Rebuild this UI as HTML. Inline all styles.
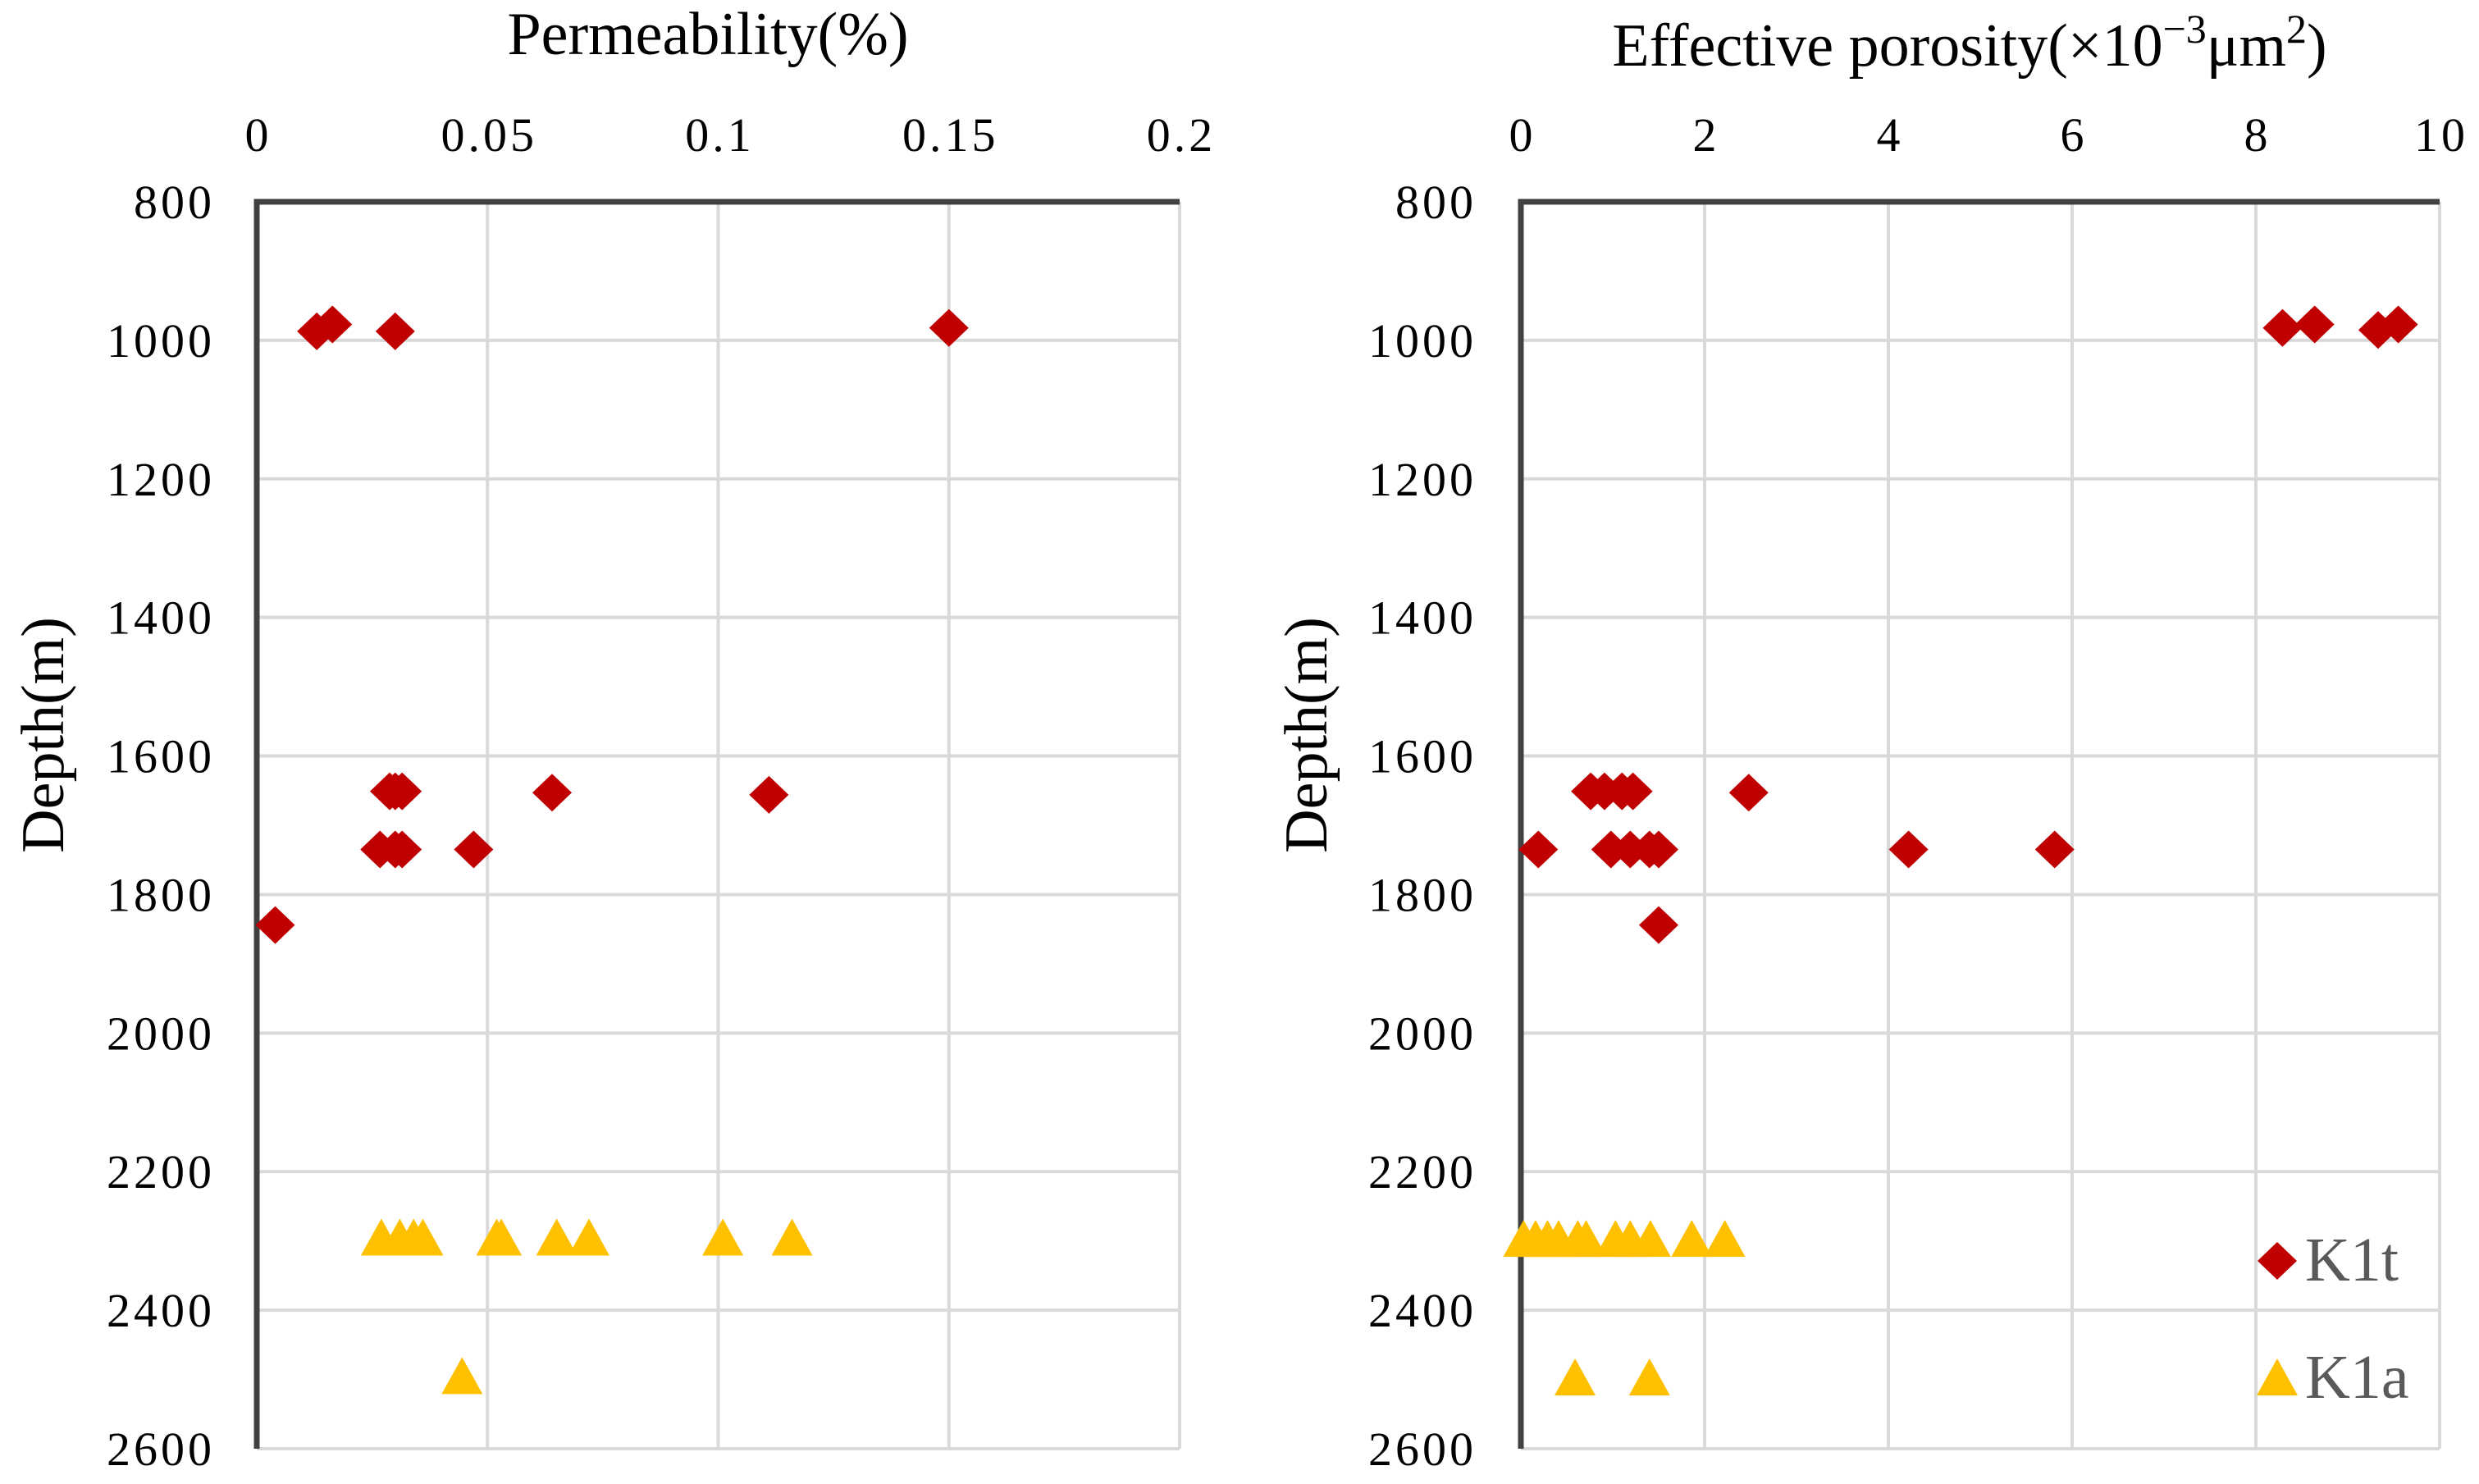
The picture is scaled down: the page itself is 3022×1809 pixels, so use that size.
<!DOCTYPE html>
<html><head><meta charset="utf-8"><style>
html,body{margin:0;padding:0;background:#fff;}
svg{display:block;}
text{font-family:"Liberation Serif",serif;}
</style></head><body>
<svg id="c" width="3022" height="1809" viewBox="0 0 3022 1809" xmlns="http://www.w3.org/2000/svg">
<text x="863" y="66" font-size="74" text-anchor="middle">Permeability(%)</text>
<text x="2401" y="80" font-size="74" text-anchor="middle">Effective porosity(×10<tspan dy="-28" font-size="50">−3</tspan><tspan dy="28">μm</tspan><tspan dy="-28" font-size="50">2</tspan><tspan dy="28">)</tspan></text>
<text transform="translate(77,896) rotate(-90)" font-size="74" text-anchor="middle">Depth(m)</text>
<text transform="translate(1617,896) rotate(-90)" font-size="74" text-anchor="middle">Depth(m)</text>
<g id="g"></g>
</svg>
<script>
const depthTicks=[800,1000,1200,1400,1600,1800,2000,2200,2400,2600];
const permTicks=["0","0.05","0.1","0.15","0.2"];
const porTicks=["0","2","4","6","8","10"];
const permK1tX=[0.013,0.0164,0.030,0.150,0.0288,0.0315,0.030,0.064,0.111,0.0267,0.030,0.0315,0.047,0.004];
const permK1tY=[987,977,987,982,1651,1651,1651,1653,1656,1735,1735,1735,1735,1844];
const permK1aX=[0.027,0.031,0.034,0.036,0.052,0.053,0.065,0.072,0.101,0.116,0.0445];
const permK1aY=[2295,2295,2295,2295,2295,2295,2295,2295,2295,2295,2495];
const porK1tX=[8.29,8.64,9.33,9.55,0.76,0.91,1.10,1.22,2.48,0.19,0.98,1.19,1.40,1.50,4.22,5.81,1.50];
const porK1tY=[982,977,985,977,1651,1651,1651,1651,1653,1735,1735,1735,1735,1735,1735,1735,1844];
const porK1aX=[0.03,0.16,0.29,0.41,0.62,0.71,1.03,1.19,1.41,1.86,2.22,0.59,1.40];
const porK1aY=[2297,2297,2297,2297,2297,2297,2297,2297,2297,2297,2297,2497,2497];

const NS="http://www.w3.org/2000/svg";
const g=document.getElementById('g');
function mk(t,a){const e=document.createElementNS(NS,t);for(const k in a)e.setAttribute(k,a[k]);g.appendChild(e);return e;}
const plotTop=246,plotBot=1766;
function yS(d){return plotTop+(d-800)/1800*(plotBot-plotTop);}
function diamond(x,y,name){const e=mk('polygon',{points:`${x},${y-23} ${x+24},${y} ${x},${y+23} ${x-24},${y}`,fill:'#C00000'});

}
function tri(x,y,name){const e=mk('polygon',{points:`${x},${y-23} ${x+25},${y+22} ${x-25},${y+22}`,fill:'#FFC000'});

}
function panel(x0,x1,max,ticks,k1tX,k1tY,k1aX,k1aY,pre,labX){
  const xS=v=>x0+v/max*(x1-x0);
  depthTicks.forEach((d,i)=>{if(i>0){const l=mk('line',{x1:x0,x2:x1,y1:yS(d),y2:yS(d),stroke:'#d9d9d9','stroke-width':4});
    
    }
    const t=mk('text',{x:labX,y:yS(d)+20,'font-size':58,'letter-spacing':4,'text-anchor':'end'});t.textContent=d;
    
    });
  ticks.forEach((s,i)=>{const v=parseFloat(s);if(i>0){const l=mk('line',{x1:xS(v),x2:xS(v),y1:plotTop,y2:plotBot,stroke:'#d9d9d9','stroke-width':4});
    
    }
    const t=mk('text',{x:xS(v)+2,y:184,'font-size':58,'letter-spacing':4,'text-anchor':'middle'});t.textContent=s;
    
    });
  const ax=mk('path',{d:`M${x0},${plotBot} L${x0},${plotTop} L${x1},${plotTop}`,stroke:'#404040','stroke-width':7,fill:'none'});
  
  
  k1aX.forEach((v,i)=>tri(xS(v),yS(k1aY[i]),pre+'-k1a-point'));
  k1tX.forEach((v,i)=>diamond(xS(v),yS(k1tY[i]),pre+'-k1t-point'));
}
panel(313,1438,0.2,permTicks,permK1tX,permK1tY,permK1aX,permK1aY,'permeability',262);
panel(1854,2974,10,porTicks,porK1tX,porK1tY,porK1aX,porK1aY,'porosity',1800);
diamond(2776,1537,'legend-k1t-marker');
const lt=mk('text',{x:2810,y:1561,'font-size':76,fill:'#595959'});lt.textContent='K1t';


tri(2776,1679,'legend-k1a-marker');
const la=mk('text',{x:2810,y:1704,'font-size':76,fill:'#595959'});la.textContent='K1a';


</script>
</body></html>
